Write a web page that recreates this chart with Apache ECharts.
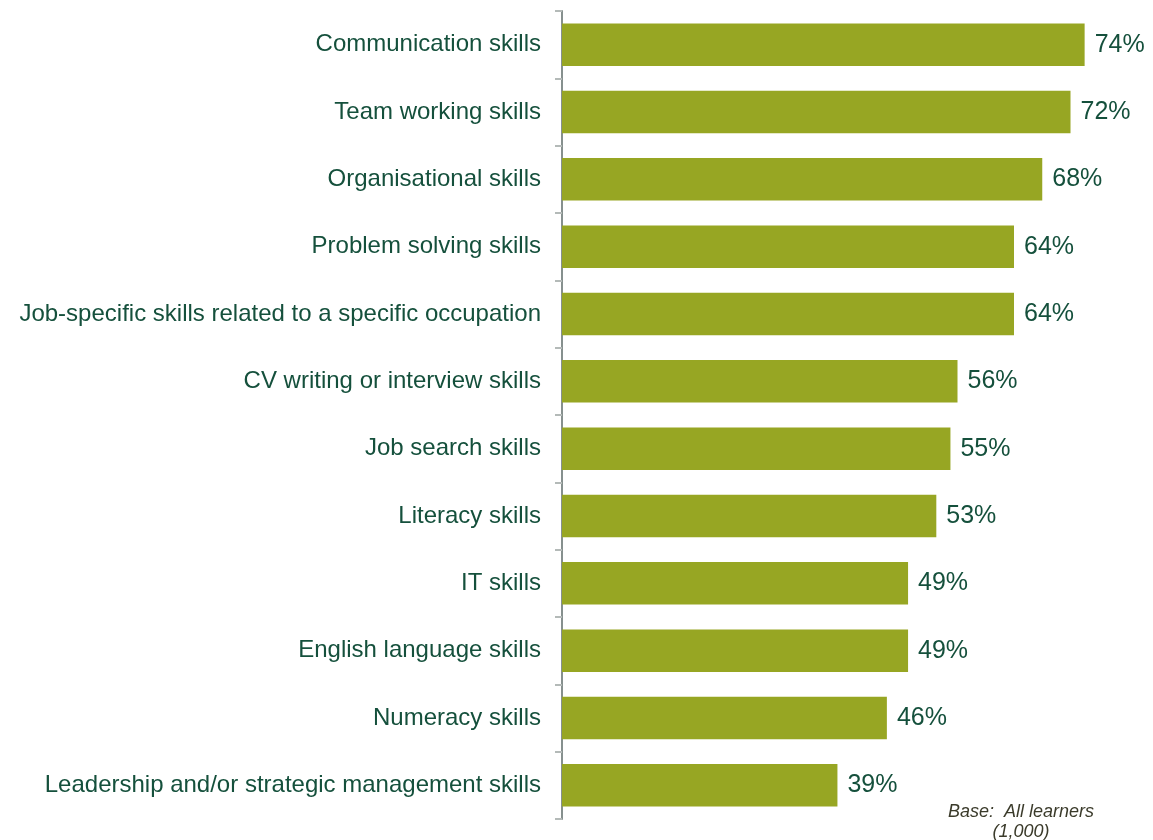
<!DOCTYPE html>
<html>
<head>
<meta charset="utf-8">
<script src="https://cdn.jsdelivr.net/npm/echarts@6/dist/echarts.min.js"></script>
<style>
  html, body { margin: 0; padding: 0; background: #ffffff; }
  #chart { width: 1153px; height: 840px; }
</style>
</head>
<body>
<div id="chart"></div>
<script>
// Skills categories, top to bottom
const skills = [
  'Communication skills',
  'Team working skills',
  'Organisational skills',
  'Problem solving skills',
  'Job-specific skills related to a specific occupation',
  'CV writing or interview skills',
  'Job search skills',
  'Literacy skills',
  'IT skills',
  'English language skills',
  'Numeracy skills',
  'Leadership and/or strategic management skills'
];

// Share of learners (%)
const shares = [74, 72, 68, 64, 64, 56, 55, 53, 49, 49, 46, 39];

const baseNote = ['Base:  All learners', '(1,000)'];

const chart = echarts.init(document.getElementById('chart'));

chart.setOption({
  animation: false,
  backgroundColor: '#ffffff',
  grid: { left: 562, top: 11, height: 808, width: 565 },
  xAxis: {
    type: 'value',
    min: 0,
    max: 80,
    show: false
  },
  yAxis: {
    type: 'category',
    data: skills,
    inverse: true,
    axisLine: { show: true, lineStyle: { color: '#86908e', width: 2 } },
    axisTick: { show: true, length: 7, lineStyle: { color: '#b4bab8', width: 2 } },
    axisLabel: {
      margin: 21,
      color: '#15503c',
      fontFamily: 'Liberation Sans, Arial, sans-serif',
      fontSize: 24,
      padding: [4, 0, 0, 0]
    },
    splitLine: { show: false }
  },
  series: [{
    type: 'bar',
    data: shares,
    barCategoryGap: '37%',
    itemStyle: { color: '#97a623' },
    label: {
      show: true,
      position: 'right',
      distance: 10,
      formatter: '{c}%',
      color: '#15503c',
      fontFamily: 'Liberation Sans, Arial, sans-serif',
      fontSize: 25,
      padding: [4, 0, 0, 0]
    }
  }],
  graphic: [{
    type: 'text',
    x: 1021,
    y: 812,
    style: {
      text: baseNote[0],
      fill: '#3b3b2b',
      font: 'italic 18px Liberation Sans, Arial, sans-serif',
      align: 'center',
      verticalAlign: 'middle'
    }
  }, {
    type: 'text',
    x: 1021,
    y: 832,
    style: {
      text: baseNote[1],
      fill: '#3b3b2b',
      font: 'italic 18px Liberation Sans, Arial, sans-serif',
      align: 'center',
      verticalAlign: 'middle'
    }
  }]
});
</script>
</body>
</html>
